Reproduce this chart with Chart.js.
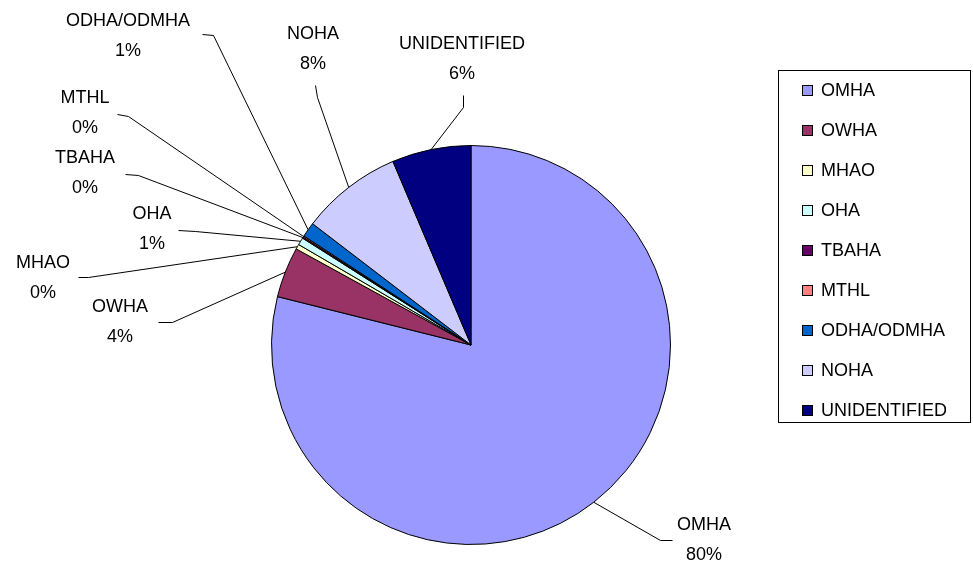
<!DOCTYPE html>
<html>
<head>
<meta charset="utf-8">
<script src="https://cdn.jsdelivr.net/npm/chart.js@4/dist/chart.umd.min.js"></script>
<style>
  html, body { margin: 0; padding: 0; background: #fff; }
  #wrap { position: relative; width: 973px; height: 567px; }
</style>
</head>
<body>
<div id="wrap"><canvas id="c" width="973" height="567"></canvas></div>
<script>
// ---- data ----
const categories = ["OMHA", "OWHA", "MHAO", "OHA", "TBAHA", "MTHL", "ODHA/ODMHA", "NOHA", "UNIDENTIFIED"];
const shares = [78.9, 4.1, 0.4, 0.6, 0.1, 0.1, 1.2, 8.2, 6.4];
const pctLabels = ["80%", "4%", "0%", "1%", "0%", "0%", "1%", "8%", "6%"];
const sliceColors = ["#9999FF", "#993366", "#FFFFCC", "#CCFFFF", "#660066", "#FF8080", "#0066CC", "#CCCCFF", "#000080"];

// ---- label layout (text centre, leader start, leader elbow) ----
const labelLayout = [
  { x: 704, y: 525, leader: [[672, 540], [660, 540]] },
  { x: 120, y: 307, leader: [[158, 322], [172, 322]] },
  { x: 43,  y: 263, leader: [[78, 277],  [88, 277]] },
  { x: 152, y: 214, leader: [[178, 230], [195, 231]] },
  { x: 85,  y: 158, leader: [[125, 174], [138, 175]] },
  { x: 85,  y: 98,  leader: [[117, 114], [128, 116]] },
  { x: 128, y: 21,  leader: [[202, 34],  [213, 35]] },
  { x: 313, y: 34,  leader: [[315, 85],  [317, 97]] },
  { x: 462, y: 44,  leader: [[463, 95],  [463, 107]] }
];
const FONT = '18px "Liberation Sans", Arial, sans-serif';
const LINE_GAP = 30;

const labelPlugin = {
  id: 'excelLabels',
  afterDraw(chart) {
    const ctx = chart.ctx;
    const meta = chart.getDatasetMeta(0);
    ctx.save();
    ctx.font = FONT;
    ctx.fillStyle = '#000';
    ctx.strokeStyle = '#000';
    ctx.lineWidth = 1;
    ctx.textAlign = 'center';
    ctx.textBaseline = 'middle';
    meta.data.forEach((arc, i) => {
      const L = labelLayout[i];
      const p = arc.getProps(['x', 'y', 'startAngle', 'endAngle', 'outerRadius'], true);
      const mid = (p.startAngle + p.endAngle) / 2;
      const ax = p.x + Math.cos(mid) * p.outerRadius;
      const ay = p.y + Math.sin(mid) * p.outerRadius;
      ctx.beginPath();
      ctx.moveTo(L.leader[0][0] + 0.5, L.leader[0][1] + 0.5);
      ctx.lineTo(L.leader[1][0] + 0.5, L.leader[1][1] + 0.5);
      ctx.lineTo(ax, ay);
      ctx.stroke();
      ctx.fillText(chart.data.labels[i], L.x, L.y);
      ctx.fillText(pctLabels[i], L.x, L.y + LINE_GAP);
    });

    // legend box
    const bx = 778, by = 70, bw = 192, bh = 352;
    ctx.strokeRect(bx + 0.5, by + 0.5, bw, bh);
    ctx.textAlign = 'left';
    const ds = chart.data.datasets[0];
    chart.data.labels.forEach((lab, i) => {
      const cy = by + 20 + i * 40;
      ctx.fillStyle = ds.backgroundColor[i];
      ctx.fillRect(802, cy - 5, 11, 11);
      ctx.strokeRect(802.5, cy - 4.5, 10, 10);
      ctx.fillStyle = '#000';
      ctx.fillText(lab, 821, cy + 1);
    });
    ctx.restore();
  }
};

new Chart(document.getElementById('c'), {
  type: 'pie',
  data: {
    labels: categories,
    datasets: [{
      data: shares,
      backgroundColor: sliceColors,
      borderColor: '#000',
      borderWidth: 1
    }]
  },
  options: {
    responsive: false,
    animation: false,
    layout: { padding: { left: 271, right: 302, top: 145, bottom: 22 } },
    plugins: {
      legend: { display: false },
      tooltip: { enabled: false }
    }
  },
  plugins: [labelPlugin]
});
</script>
</body>
</html>
